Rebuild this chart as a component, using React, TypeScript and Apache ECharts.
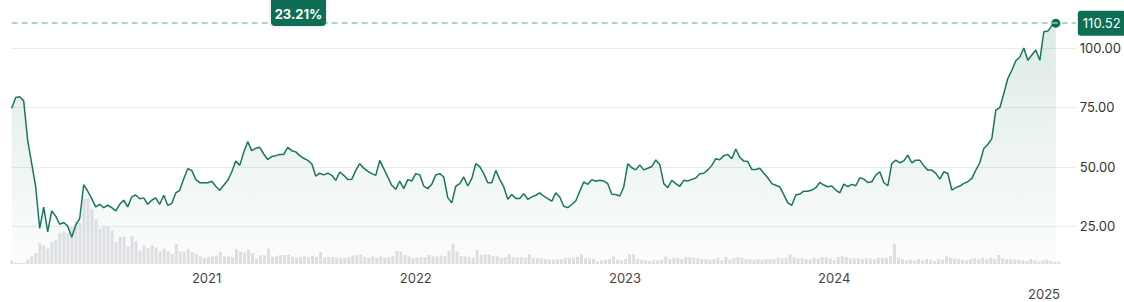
import React, { useEffect, useRef } from "react";
import * as echarts from "echarts";

// Weekly closing prices, first week 2020-01-27
const PRICES: number[] = [
  74.7, 79.2, 79.5, 77.8, 61, 51.3, 41.5, 24, 33, 22.6,
  31.4, 29.2, 25.8, 26.5, 25, 20.3, 25.4, 28.2, 42.5, 39.7,
  36.6, 33.1, 34.2, 32.8, 33.8, 32.8, 31.4, 34.2, 35.9, 33.1,
  37.3, 38.1, 36.5, 36.9, 34.2, 35.9, 36.9, 34.2, 38, 33.8,
  34.5, 39, 40.1, 45, 49.2, 48.5, 44.7, 43.3, 43.3, 43.3,
  43.9, 41.8, 40.1, 42.2, 44.3, 47.8, 52.4, 50.6, 56.1, 60.6,
  56.8, 57.8, 58.2, 55.4,
  53.1, 54.3, 54.7, 55.2, 55.2, 58.2, 56.8, 56.3, 54.7, 53.6,
  52.7, 51.3, 46.1, 47.3, 46.6, 47.3, 46.4, 44.3, 47.8, 46.4,
  44.6, 44.7, 48.5, 51.3, 49.4, 48.2, 47.1, 46.4, 52.7, 49.2,
  45.7, 42.2, 40.5, 44, 40.8, 44.6, 44, 47.1, 46.6, 41.9,
  40.8, 42.6, 46.6, 47.1, 45.7, 37, 34.8, 41.8, 42.9, 45.7,
  41.9, 45, 51.3, 50.1, 47.1, 43.3, 43.3, 48.5, 44.7, 41.5,
  36.3, 38.3, 36.6, 36.6, 38.7, 36.3,
  37.3, 38, 39, 37.6, 36.6, 35.5, 39, 37.3, 33.4, 32.8,
  34.1, 35.6, 39.7, 43.6, 42.6, 44.6, 43.9, 44.3, 44, 42.9,
  38.4, 38.3, 37.7, 41.5, 51.3, 49.6, 48.7, 50.8, 48.7, 49.4,
  50.1, 52.9, 51, 42.9, 41.2, 44.3, 42.9, 41.8, 44.3, 44,
  44.7, 45.3, 47.1, 47.3, 48.7, 50.6, 53.4, 53, 54.7, 55.2,
  53.4, 57.5, 54, 52.4, 52.2, 48.9, 48.9, 49.4, 47.3, 45.4,
  42.9, 42.2, 41.5, 38.3, 34.8, 33.8,
  38.1, 38.5, 39.7, 39.7, 40.2, 41.2, 43.4, 42.3, 41.6, 41.9,
  40.2, 39, 42.7, 41.6, 42.6, 42, 45.4, 44.8, 43.4, 43.7,
  46.5, 47.9, 43.4, 42, 51.4, 52.8, 51.7, 52.5, 54.9, 51.7,
  52.8, 52.8, 50.4, 48.6, 48.6, 47.2, 44.8, 47.9, 47.2, 40.2,
  41.2, 41.9, 43, 43.7, 45.1, 48.6, 51.7, 57.7, 59.4, 61.9,
  73.9, 74.9, 80.9, 87.2, 90.7, 94.7, 96.3, 100.1, 94.9, 97.1,
  99.2, 94.9, 106.9, 107.2, 109.4, 110.52,
];

// Weekly volume (relative units)
const VOLUMES: number[] = [
  10, 5, 3, 3, 13, 23, 33, 63, 56, 46,
  66, 73, 93, 98, 93, 113, 128, 123, 196, 198,
  166, 135, 106, 115, 113, 101, 66, 81, 83, 53,
  83, 68, 40, 56, 48, 56, 50, 38, 46, 38,
  30, 60, 38, 38, 45, 36, 31, 23, 18, 21,
  23, 26, 36, 23, 23, 21, 45, 38, 35, 43,
  33, 16, 26,
  26, 46, 21, 23, 27, 27, 27, 21, 19, 21,
  23, 21, 25, 21, 37, 21, 21, 21, 19, 19,
  19, 21, 25, 27, 27, 21, 19, 23, 19, 23,
  19, 21, 23, 39, 37, 27, 23, 19, 19, 21,
  21, 27, 23, 23, 25, 23, 40, 60, 38, 23,
  23, 21, 19, 42, 27, 29, 29, 23, 23, 19,
  21, 29, 21, 19, 21, 19, 29, 19, 17, 17,
  15, 13, 13, 15, 15, 19, 19, 19, 21, 29,
  17, 17, 15, 7, 11, 13, 15, 23, 13, 11,
  15, 29, 29, 15, 13, 11, 9, 13, 11, 13,
  23, 15, 19, 19, 15, 21, 21, 19, 17, 15,
  15, 13, 15, 19, 11, 21, 13, 17, 21, 19,
  15, 15, 13, 15, 13, 15, 15, 15, 19, 17,
  19, 29, 21, 17, 17, 15, 13, 19, 17, 21,
  21, 17, 11, 21, 25, 21, 17, 17, 17, 15,
  17, 17, 15, 19, 19, 19, 23, 60, 19, 15,
  11, 13, 11, 15, 11, 15, 13, 9, 15, 13,
  23, 19, 17, 15, 13, 11, 15, 17, 15, 19,
  15, 19, 15, 27, 17, 15, 15, 13, 13, 11,
  9, 15, 11, 7, 11, 13, 9, 7, 7,
];

const YEAR_TICKS = [2021, 2022, 2023, 2024, 2025];
const LOWER_ROW_YEAR = 2025;
const PRICE_TICKS = [25, 50, 75, 100];
const LAST_PRICE = 110.52;
const CHANGE_LABEL = "23.21%";

const START_DATE = Date.UTC(2020, 0, 27);
const WEEK_MS = 7 * 86400000;
const X_MAX = Date.UTC(2025, 2, 3);

const GREEN = "#0d6e54";
const FONT = "Inter, 'Noto Sans', sans-serif";

export default function App() {
  const ref = useRef<HTMLDivElement>(null);

  useEffect(() => {
    if (!ref.current) return;
    const chart = echarts.init(ref.current, null, { renderer: "svg" });
    const dates = PRICES.map((_, i) => START_DATE + i * WEEK_MS);
    const priceData = PRICES.map((v, i) => [dates[i], v]);
    const volData = VOLUMES.map((v, i) => [dates[i], v]);
    const last = priceData[priceData.length - 1];

    chart.setOption({
      animation: false,
      textStyle: { fontFamily: FONT },
      grid: [
        { left: 11.7, right: 45, top: 12.6, bottom: 37.7 },
        { left: 11.7, right: 45, top: 164.3, bottom: 37.7 },
      ],
      xAxis: [
        {
          type: "value",
          gridIndex: 0,
          min: START_DATE,
          max: X_MAX,
          show: false,
          splitLine: { show: false },
        },
        {
          type: "value",
          gridIndex: 1,
          min: START_DATE,
          max: X_MAX,
          axisLine: { show: false },
          axisTick: { show: false },
          splitLine: { show: false },
          axisLabel: {
            customValues: YEAR_TICKS.map((y) => Date.UTC(y, 0, 1)),
            formatter: (v: number) => {
              const y = new Date(v).getUTCFullYear();
              return y === LOWER_ROW_YEAR ? "\n" + y : String(y);
            },
            color: "#444",
            fontSize: 13,
            lineHeight: 16,
            margin: 6,
            fontFamily: FONT,
          },
        },
      ],
      yAxis: [
        {
          type: "value",
          gridIndex: 0,
          position: "right",
          min: 8.9,
          max: 115,
          axisLine: { show: false },
          axisTick: { show: false, customValues: PRICE_TICKS },
          axisLabel: {
            customValues: PRICE_TICKS,
            formatter: (v: number) => v.toFixed(2),
            color: "#333",
            fontSize: 13,
            margin: 4,
            fontFamily: FONT,
          },
          splitLine: { show: true, lineStyle: { color: "#ebebeb", width: 1 } },
        },
        { type: "value", gridIndex: 1, min: 0, max: 300, show: false },
      ],
      series: [
        {
          type: "line",
          name: "area",
          xAxisIndex: 0,
          yAxisIndex: 0,
          data: priceData,
          showSymbol: false,
          silent: true,
          z: 1,
          lineStyle: { width: 0, opacity: 0 },
          areaStyle: {
            color: new echarts.graphic.LinearGradient(0, 0, 0, 1, [
              { offset: 0, color: "rgba(13,110,84,0.2)" },
              { offset: 1, color: "rgba(13,110,84,0.02)" },
            ]),
          },
        },
        {
          type: "bar",
          name: "volume",
          xAxisIndex: 1,
          yAxisIndex: 1,
          data: volData,
          barWidth: 3,
          silent: true,
          z: 2,
          itemStyle: { color: "#dcdee1" },
        },
        {
          type: "line",
          name: "price",
          xAxisIndex: 0,
          yAxisIndex: 0,
          data: priceData,
          showSymbol: false,
          silent: true,
          z: 3,
          lineStyle: { color: "#1a765b", width: 1.5 },
          markLine: {
            silent: true,
            symbol: ["none", "none"],
            lineStyle: { color: "#94c8b9", type: [6, 4], width: 1.5 },
            label: {
              show: true,
              position: "end",
              distance: 2,
              formatter: LAST_PRICE.toFixed(2),
              color: "#fff",
              backgroundColor: GREEN,
              padding: [6, 5, 6, 5],
              borderRadius: 3,
              fontSize: 13,
              fontFamily: FONT,
            },
            data: [{ yAxis: LAST_PRICE }],
          },
        },
        {
          type: "scatter",
          name: "last",
          xAxisIndex: 0,
          yAxisIndex: 0,
          data: [last],
          symbolSize: 9,
          silent: true,
          z: 4,
          itemStyle: { color: GREEN, opacity: 1 },
        },
      ],
      graphic: [
        {
          type: "rect",
          z: 10,
          shape: { x: 271, y: -6, width: 55, height: 32, r: 4 },
          style: { fill: GREEN, shadowBlur: 4, shadowColor: "rgba(0,0,0,0.15)" },
        },
        {
          type: "text",
          z: 11,
          x: 298.5,
          y: 13.5,
          style: {
            text: CHANGE_LABEL,
            fill: "#fff",
            fontSize: 13,
            fontWeight: 700,
            fontFamily: FONT,
            align: "center",
            verticalAlign: "middle",
          },
        },
      ],
    });

    return () => chart.dispose();
  }, []);

  return (
    <div
      ref={ref}
      style={{ position: "absolute", left: 0, top: 0, width: 1124, height: 302 }}
    />
  );
}
